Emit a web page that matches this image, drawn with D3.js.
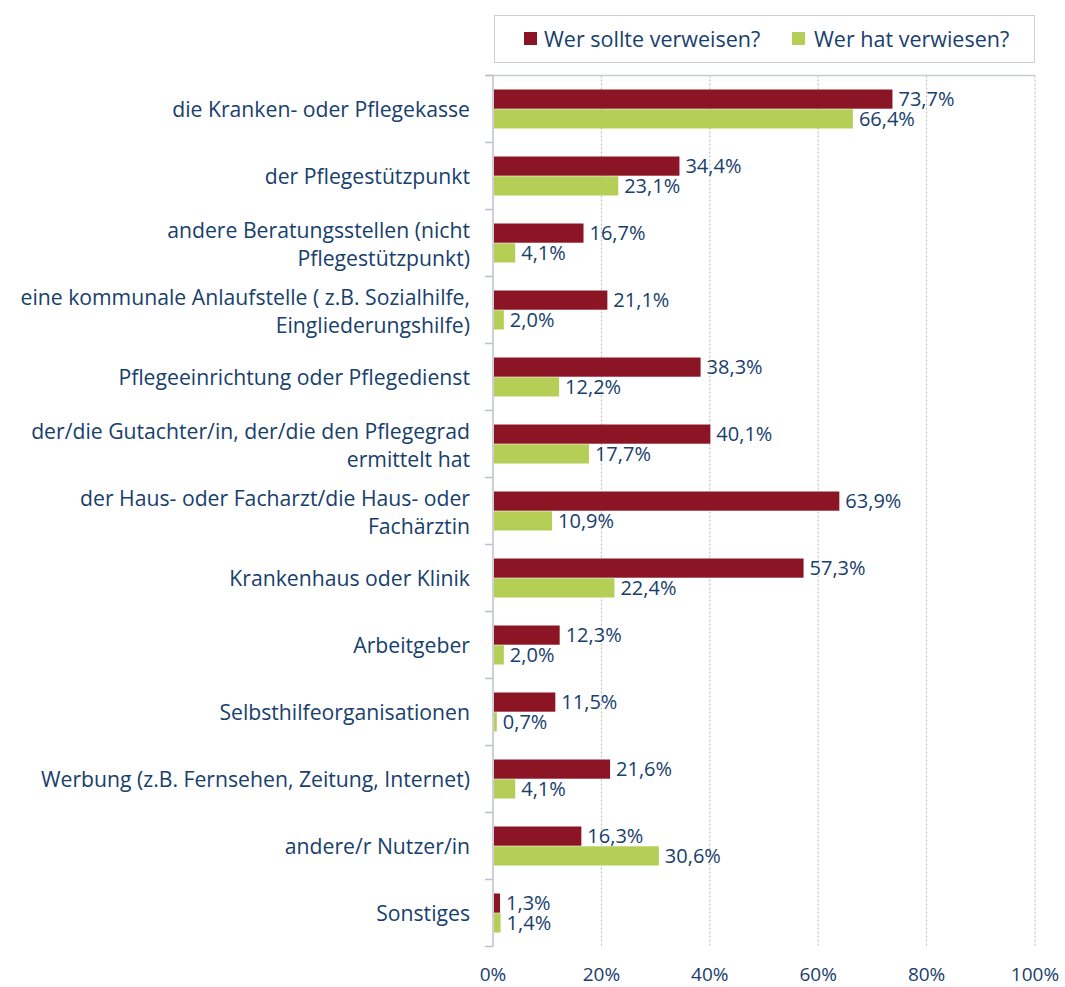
<!DOCTYPE html>
<html>
<head>
<meta charset="utf-8">
<script src="https://cdn.jsdelivr.net/npm/d3@7"></script>
<style>
  html, body { margin: 0; padding: 0; background: #fff; }
  svg { display: block; }
  text { font-family: "Open Sans", Lato, sans-serif; }
</style>
</head>
<body>
<svg id="chart" width="1065" height="987"></svg>
<script>
const categories = [
  ["die Kranken- oder Pflegekasse"],
  ["der Pflegestützpunkt"],
  ["andere Beratungsstellen (nicht", "Pflegestützpunkt)"],
  ["eine kommunale Anlaufstelle ( z.B. Sozialhilfe,", "Eingliederungshilfe)"],
  ["Pflegeeinrichtung oder Pflegedienst"],
  ["der/die Gutachter/in, der/die den Pflegegrad", "ermittelt hat"],
  ["der Haus- oder Facharzt/die Haus- oder", "Fachärztin"],
  ["Krankenhaus oder Klinik"],
  ["Arbeitgeber"],
  ["Selbsthilfeorganisationen"],
  ["Werbung (z.B. Fernsehen, Zeitung, Internet)"],
  ["andere/r Nutzer/in"],
  ["Sonstiges"]
];
const seriesNames = ["Wer sollte verweisen?", "Wer hat verwiesen?"];
const sollte = [73.7, 34.4, 16.7, 21.1, 38.3, 40.1, 63.9, 57.3, 12.3, 11.5, 21.6, 16.3, 1.3];
const hat    = [66.4, 23.1, 4.1, 2.0, 12.2, 17.7, 10.9, 22.4, 2.0, 0.7, 4.1, 30.6, 1.4];
const xTicks = [0, 20, 40, 60, 80, 100];
const colors = ["#8B1425", "#B5CE55"];
const textColor = "#17406D";

(function () {
const svg = d3.select("#chart");
const L = 493, R = 1035, T = 75.5, B = 946.5;

const x = d3.scaleLinear().domain([0, 100]).range([L, R]);
const y = d3.scaleBand().domain(d3.range(categories.length)).range([T, B])
  .paddingInner(0.418).paddingOuter(0.209);
const ySub = d3.scaleBand().domain([0, 1]).range([0, y.bandwidth()]).paddingInner(0.03);

// gridlines
svg.append("g").selectAll("line").data(xTicks.filter(d => d > 0)).join("line")
  .attr("x1", d => x(d)).attr("x2", d => x(d))
  .attr("y1", T).attr("y2", B)
  .attr("stroke", "#b4b4b4").attr("stroke-width", 1).attr("stroke-dasharray", "2,2");

// top line
svg.append("line").attr("x1", L - 8).attr("x2", R).attr("y1", T).attr("y2", T)
  .attr("stroke", "#c8ccd8").attr("stroke-width", 1.5);

// y axis line + ticks at category boundaries
const step = y.step();
const bounds = d3.range(categories.length + 1).map(i => T + i * step);
svg.append("line").attr("x1", L).attr("x2", L).attr("y1", T).attr("y2", B)
  .attr("stroke", "#bcc0ca").attr("stroke-width", 1.5);
svg.append("g").selectAll("line").data(bounds).join("line")
  .attr("x1", L - 8).attr("x2", L).attr("y1", d => d).attr("y2", d => d)
  .attr("stroke", "#bcc0ca").attr("stroke-width", 1.5);

// bars
const data = categories.map((c, i) => ({ i, vals: [sollte[i], hat[i]] }));
const groups = svg.append("g").selectAll("g").data(data).join("g")
  .attr("transform", d => `translate(0,${y(d.i)})`);
groups.selectAll("rect").data(d => d.vals.map((v, s) => ({ v, s }))).join("rect")
  .attr("x", x(0) + 1).attr("y", d => ySub(d.s))
  .attr("width", d => x(d.v) - x(0) - 1)
  .attr("height", ySub.bandwidth())
  .attr("fill", d => colors[d.s]);
groups.selectAll("text").data(d => d.vals.map((v, s) => ({ v, s }))).join("text")
  .attr("x", d => x(d.v) + 6).attr("y", d => ySub(d.s) + ySub.bandwidth() / 2)
  .attr("dy", "0.36em")
  .attr("fill", textColor).attr("font-size", 20)
  .text(d => d3.format(".1f")(d.v).replace(".", ",") + "%");

// category labels
const lh = 27.5;
const labels = svg.append("g").selectAll("text").data(categories).join("text")
  .attr("text-anchor", "end").attr("fill", textColor).attr("font-size", 21.2)
  .attr("transform", (d, i) => `translate(470,${y(i) + y.bandwidth() / 2 + (d.length > 1 ? 1.5 : 0.5)})`);
labels.selectAll("tspan").data(d => d.map((t, k) => ({ t, k, n: d.length }))).join("tspan")
  .attr("x", 0)
  .attr("y", d => (d.k - (d.n - 1) / 2) * lh)
  .attr("dy", "0.36em")
  .text(d => d.t);

// x tick labels
svg.append("g").selectAll("text").data(xTicks).join("text")
  .attr("x", d => x(d)).attr("y", 981)
  .attr("text-anchor", "middle").attr("fill", textColor).attr("font-size", 19)
  .text(d => d + "%");

// legend
svg.append("rect").attr("x", 494.5).attr("y", 15.5).attr("width", 540).attr("height", 47)
  .attr("fill", "#fff").attr("stroke", "#d0d0d0").attr("stroke-width", 1);
const legendItems = [{ x: 524, tx: 544 }, { x: 792, tx: 814 }];
seriesNames.forEach((n, s) => {
  svg.append("rect").attr("x", legendItems[s].x).attr("y", 32).attr("width", 13).attr("height", 13)
    .attr("fill", colors[s]);
  svg.append("text").attr("x", legendItems[s].tx).attr("y", 39).attr("dy", "0.36em")
    .attr("fill", textColor).attr("font-size", 21.5).text(n);
});
})();
</script>
</body>
</html>
